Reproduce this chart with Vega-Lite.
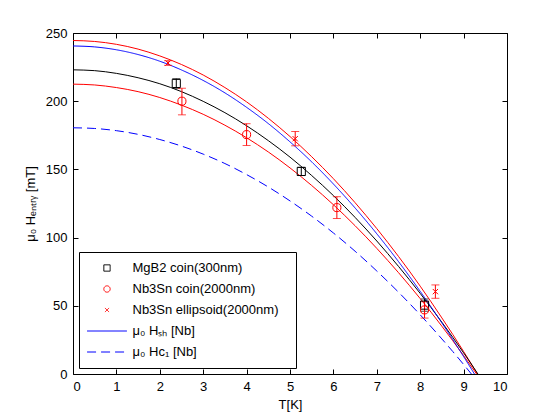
{
  "$schema": "https://vega.github.io/schema/vega-lite/v6.json",
  "width": 434,
  "height": 341,
  "autosize": {"type": "none"},
  "padding": {"left": 73, "top": 33, "right": 53, "bottom": 46},
  "background": "white",
  "config": {
    "font": "Liberation Sans",
    "view": {"stroke": "black", "strokeWidth": 1},
    "axis": {
      "domain": false,
      "grid": false,
      "ticks": true,
      "tickColor": "black",
      "tickSize": -5,
      "tickWidth": 1,
      "labelFont": "Liberation Sans",
      "labelFontSize": 13,
      "labelColor": "black",
      "labelPadding": 11,
      "titleFont": "Liberation Sans",
      "titleFontSize": 13,
      "titleFontWeight": "normal",
      "titleColor": "black"
    },
    "legend": {
      "orient": "bottom-left",
      "offset": 6,
      "padding": 7,
      "fillColor": "white",
      "strokeColor": "black",
      "cornerRadius": 0,
      "labelFont": "Liberation Sans",
      "labelFontSize": 13,
      "labelColor": "black",
      "labelOffset": 19,
      "labelLimit": 400,
      "rowPadding": 3,
      "clipHeight": 18,
      "symbolSize": 40,
      "symbolOffset": 14.5,
      "symbolStrokeWidth": 1
    }
  },
  "datasets": {
    "fits": [
      {"curve": "upper", "T": 0, "H": 244.5}, {"curve": "upper", "T": 0.5, "H": 243.8}, {"curve": "upper", "T": 1, "H": 241.7},
      {"curve": "upper", "T": 1.5, "H": 238.2}, {"curve": "upper", "T": 2, "H": 233.2}, {"curve": "upper", "T": 2.5, "H": 226.9},
      {"curve": "upper", "T": 3, "H": 219.2}, {"curve": "upper", "T": 3.5, "H": 210.0}, {"curve": "upper", "T": 4, "H": 199.5},
      {"curve": "upper", "T": 4.5, "H": 187.5}, {"curve": "upper", "T": 5, "H": 174.1}, {"curve": "upper", "T": 5.5, "H": 159.3},
      {"curve": "upper", "T": 6, "H": 143.2}, {"curve": "upper", "T": 6.5, "H": 125.6}, {"curve": "upper", "T": 7, "H": 106.6},
      {"curve": "upper", "T": 7.5, "H": 86.2}, {"curve": "upper", "T": 8, "H": 64.4}, {"curve": "upper", "T": 8.5, "H": 41.1},
      {"curve": "upper", "T": 8.75, "H": 29.0}, {"curve": "upper", "T": 9, "H": 16.5}, {"curve": "upper", "T": 9.1, "H": 11.4},
      {"curve": "upper", "T": 9.32, "H": 0},
      {"curve": "middle", "T": 0, "H": 223.0}, {"curve": "middle", "T": 0.5, "H": 222.4}, {"curve": "middle", "T": 1, "H": 220.4},
      {"curve": "middle", "T": 1.5, "H": 217.2}, {"curve": "middle", "T": 2, "H": 212.8}, {"curve": "middle", "T": 2.5, "H": 207.0},
      {"curve": "middle", "T": 3, "H": 199.9}, {"curve": "middle", "T": 3.5, "H": 191.6}, {"curve": "middle", "T": 4, "H": 182.0},
      {"curve": "middle", "T": 4.5, "H": 171.1}, {"curve": "middle", "T": 5, "H": 159.0}, {"curve": "middle", "T": 5.5, "H": 145.5},
      {"curve": "middle", "T": 6, "H": 130.8}, {"curve": "middle", "T": 6.5, "H": 114.8}, {"curve": "middle", "T": 7, "H": 97.5},
      {"curve": "middle", "T": 7.5, "H": 78.9}, {"curve": "middle", "T": 8, "H": 59.1}, {"curve": "middle", "T": 8.5, "H": 37.9},
      {"curve": "middle", "T": 8.75, "H": 26.9}, {"curve": "middle", "T": 9, "H": 15.5}, {"curve": "middle", "T": 9.1, "H": 10.9},
      {"curve": "middle", "T": 9.33, "H": 0},
      {"curve": "lower", "T": 0, "H": 212.5}, {"curve": "lower", "T": 0.5, "H": 211.9}, {"curve": "lower", "T": 1, "H": 210.0},
      {"curve": "lower", "T": 1.5, "H": 207.0}, {"curve": "lower", "T": 2, "H": 202.7}, {"curve": "lower", "T": 2.5, "H": 197.1},
      {"curve": "lower", "T": 3, "H": 190.4}, {"curve": "lower", "T": 3.5, "H": 182.4}, {"curve": "lower", "T": 4, "H": 173.2},
      {"curve": "lower", "T": 4.5, "H": 162.8}, {"curve": "lower", "T": 5, "H": 151.1}, {"curve": "lower", "T": 5.5, "H": 138.2},
      {"curve": "lower", "T": 6, "H": 124.1}, {"curve": "lower", "T": 6.5, "H": 108.7}, {"curve": "lower", "T": 7, "H": 92.1},
      {"curve": "lower", "T": 7.5, "H": 74.3}, {"curve": "lower", "T": 8, "H": 55.3}, {"curve": "lower", "T": 8.5, "H": 35.0},
      {"curve": "lower", "T": 8.75, "H": 24.4}, {"curve": "lower", "T": 9, "H": 13.5}, {"curve": "lower", "T": 9.1, "H": 9.0},
      {"curve": "lower", "T": 9.3, "H": 0}
    ],
    "niobium": [
      {"series": "μ₀ Hₛₕ [Nb]", "T": 0, "H": 240.5}, {"series": "μ₀ Hₛₕ [Nb]", "T": 0.5, "H": 239.8}, {"series": "μ₀ Hₛₕ [Nb]", "T": 1, "H": 237.7},
      {"series": "μ₀ Hₛₕ [Nb]", "T": 1.5, "H": 234.2}, {"series": "μ₀ Hₛₕ [Nb]", "T": 2, "H": 229.3}, {"series": "μ₀ Hₛₕ [Nb]", "T": 2.5, "H": 222.9},
      {"series": "μ₀ Hₛₕ [Nb]", "T": 3, "H": 215.2}, {"series": "μ₀ Hₛₕ [Nb]", "T": 3.5, "H": 206.1}, {"series": "μ₀ Hₛₕ [Nb]", "T": 4, "H": 195.5},
      {"series": "μ₀ Hₛₕ [Nb]", "T": 4.5, "H": 183.6}, {"series": "μ₀ Hₛₕ [Nb]", "T": 5, "H": 170.2}, {"series": "μ₀ Hₛₕ [Nb]", "T": 5.5, "H": 155.5},
      {"series": "μ₀ Hₛₕ [Nb]", "T": 6, "H": 139.3}, {"series": "μ₀ Hₛₕ [Nb]", "T": 6.5, "H": 121.7}, {"series": "μ₀ Hₛₕ [Nb]", "T": 7, "H": 102.8},
      {"series": "μ₀ Hₛₕ [Nb]", "T": 7.5, "H": 82.4}, {"series": "μ₀ Hₛₕ [Nb]", "T": 8, "H": 60.6}, {"series": "μ₀ Hₛₕ [Nb]", "T": 8.5, "H": 37.4},
      {"series": "μ₀ Hₛₕ [Nb]", "T": 8.75, "H": 25.3}, {"series": "μ₀ Hₛₕ [Nb]", "T": 9, "H": 12.8}, {"series": "μ₀ Hₛₕ [Nb]", "T": 9.1, "H": 7.7},
      {"series": "μ₀ Hₛₕ [Nb]", "T": 9.25, "H": 0},
      {"series": "μ₀ Hc₁ [Nb]", "T": 0, "H": 180.5}, {"series": "μ₀ Hc₁ [Nb]", "T": 0.5, "H": 180.0}, {"series": "μ₀ Hc₁ [Nb]", "T": 1, "H": 178.4},
      {"series": "μ₀ Hc₁ [Nb]", "T": 1.5, "H": 175.7}, {"series": "μ₀ Hc₁ [Nb]", "T": 2, "H": 171.9}, {"series": "μ₀ Hc₁ [Nb]", "T": 2.5, "H": 167.1},
      {"series": "μ₀ Hc₁ [Nb]", "T": 3, "H": 161.2}, {"series": "μ₀ Hc₁ [Nb]", "T": 3.5, "H": 154.3}, {"series": "μ₀ Hc₁ [Nb]", "T": 4, "H": 146.2},
      {"series": "μ₀ Hc₁ [Nb]", "T": 4.5, "H": 137.1}, {"series": "μ₀ Hc₁ [Nb]", "T": 5, "H": 126.9}, {"series": "μ₀ Hc₁ [Nb]", "T": 5.5, "H": 115.7},
      {"series": "μ₀ Hc₁ [Nb]", "T": 6, "H": 103.4}, {"series": "μ₀ Hc₁ [Nb]", "T": 6.5, "H": 90.0}, {"series": "μ₀ Hc₁ [Nb]", "T": 7, "H": 75.5},
      {"series": "μ₀ Hc₁ [Nb]", "T": 7.5, "H": 60.0}, {"series": "μ₀ Hc₁ [Nb]", "T": 8, "H": 43.4}, {"series": "μ₀ Hc₁ [Nb]", "T": 8.5, "H": 25.7},
      {"series": "μ₀ Hc₁ [Nb]", "T": 8.75, "H": 16.5}, {"series": "μ₀ Hc₁ [Nb]", "T": 9, "H": 7.0}, {"series": "μ₀ Hc₁ [Nb]", "T": 9.18, "H": 0}
    ],
    "samples": [
      {"series": "MgB2 coin(300nm)", "T": 2.38, "H": 213.0, "lo": 209.5, "hi": 216.5},
      {"series": "MgB2 coin(300nm)", "T": 5.26, "H": 148.5, "lo": 145.5, "hi": 151.5},
      {"series": "MgB2 coin(300nm)", "T": 8.1, "H": 50.5, "lo": 46.0, "hi": 55.0},
      {"series": "Nb3Sn coin(2000nm)", "T": 2.51, "H": 200.0, "lo": 190.0, "hi": 209.5},
      {"series": "Nb3Sn coin(2000nm)", "T": 4.0, "H": 175.5, "lo": 167.5, "hi": 183.5},
      {"series": "Nb3Sn coin(2000nm)", "T": 6.08, "H": 122.0, "lo": 114.0, "hi": 130.0},
      {"series": "Nb3Sn coin(2000nm)", "T": 8.1, "H": 47.0, "lo": 41.0, "hi": 53.0},
      {"series": "Nb3Sn ellipsoid(2000nm)", "T": 2.19, "H": 228.0, "lo": 226.3, "hi": 229.7},
      {"series": "Nb3Sn ellipsoid(2000nm)", "T": 5.12, "H": 172.5, "lo": 167.3, "hi": 177.8},
      {"series": "Nb3Sn ellipsoid(2000nm)", "T": 8.35, "H": 60.4, "lo": 55.5, "hi": 65.3}
    ]
  },
  "resolve": {"axis": {"x": "independent", "y": "independent"}},
  "layer": [
    {
      "data": {"name": "fits"},
      "transform": [{"filter": "datum.curve !== 'middle'"}],
      "mark": {"type": "line", "color": "#ff0000", "strokeWidth": 1, "interpolate": "monotone"},
      "encoding": {
        "x": {"field": "T", "type": "quantitative", "scale": {"domain": [0, 10], "nice": false},
              "axis": {"orient": "bottom", "values": [0, 1, 2, 3, 4, 5, 6, 7, 8, 9, 10], "title": "T[K]", "titlePadding": 5}},
        "y": {"field": "H", "type": "quantitative", "scale": {"domain": [0, 250], "nice": false},
              "axis": {"orient": "left", "values": [0, 50, 100, 150, 200, 250], "title": "μ₀ Hₑₙₜᵣᵧ [mT]", "titlePadding": 8}},
        "detail": {"field": "curve"}
      }
    },
    {
      "data": {"name": "fits"},
      "transform": [{"filter": "datum.curve === 'middle'"}],
      "mark": {"type": "line", "color": "black", "strokeWidth": 1, "interpolate": "monotone"},
      "encoding": {
        "x": {"field": "T", "type": "quantitative", "axis": null},
        "y": {"field": "H", "type": "quantitative", "axis": null}
      }
    },
    {
      "data": {"name": "niobium"},
      "mark": {"type": "line", "strokeWidth": 1, "interpolate": "monotone"},
      "encoding": {
        "x": {"field": "T", "type": "quantitative",
              "axis": {"orient": "top", "values": [0, 1, 2, 3, 4, 5, 6, 7, 8, 9, 10], "labels": false, "title": null}},
        "y": {"field": "H", "type": "quantitative",
              "axis": {"orient": "right", "values": [0, 50, 100, 150, 200, 250], "labels": false, "title": null}},
        "color": {"field": "series", "type": "nominal",
                  "scale": {"domain": ["MgB2 coin(300nm)", "Nb3Sn coin(2000nm)", "Nb3Sn ellipsoid(2000nm)", "μ₀ Hₛₕ [Nb]", "μ₀ Hc₁ [Nb]"],
                            "range": ["black", "#ff0000", "#ff0000", "#0000ff", "#0000ff"]},
                  "legend": {"title": null, "labelExpr": "datum.label + '\u2800'",
                             "encode": {"symbols": {"update": {"size": {"value": 40}}}}}},
        "strokeDash": {"field": "series", "type": "nominal",
                       "scale": {"domain": ["MgB2 coin(300nm)", "Nb3Sn coin(2000nm)", "Nb3Sn ellipsoid(2000nm)", "μ₀ Hₛₕ [Nb]", "μ₀ Hc₁ [Nb]"],
                                 "range": [[1, 0], [1, 0], [1, 0], [1, 0], [9, 5]]},
                       "legend": {"title": null, "labelExpr": "datum.label + '\u2800'",
                                  "encode": {"symbols": {"update": {"size": {"value": 40}}}}}}
      }
    },
    {
      "data": {"name": "samples"},
      "transform": [{"filter": "datum.series === 'MgB2 coin(300nm)'"}],
      "mark": {"type": "errorbar", "color": "black", "thickness": 1, "ticks": {"size": 8, "thickness": 1}},
      "encoding": {
        "x": {"field": "T", "type": "quantitative", "axis": null},
        "y": {"field": "lo", "type": "quantitative", "axis": null},
        "y2": {"field": "hi"}
      }
    },
    {
      "data": {"name": "samples"},
      "transform": [{"filter": "datum.series !== 'MgB2 coin(300nm)'"}],
      "mark": {"type": "errorbar", "color": "#ff0000", "thickness": 1, "ticks": {"size": 8, "thickness": 1}},
      "encoding": {
        "x": {"field": "T", "type": "quantitative", "axis": null},
        "y": {"field": "lo", "type": "quantitative", "axis": null},
        "y2": {"field": "hi"}
      }
    },
    {
      "data": {"name": "samples"},
      "mark": {"type": "point", "filled": false, "strokeWidth": 1, "opacity": 1, "size": 66},
      "encoding": {
        "x": {"field": "T", "type": "quantitative", "axis": null},
        "y": {"field": "H", "type": "quantitative", "axis": null},
        "color": {"field": "series", "type": "nominal",
                  "scale": {"domain": ["MgB2 coin(300nm)", "Nb3Sn coin(2000nm)", "Nb3Sn ellipsoid(2000nm)", "μ₀ Hₛₕ [Nb]", "μ₀ Hc₁ [Nb]"],
                            "range": ["black", "#ff0000", "#ff0000", "#0000ff", "#0000ff"]},
                  "legend": {"title": null, "labelExpr": "datum.label + '\u2800'",
                             "encode": {"symbols": {"update": {"size": {"value": 40}}}}}},
        "shape": {"field": "series", "type": "nominal",
                  "scale": {"domain": ["MgB2 coin(300nm)", "Nb3Sn coin(2000nm)", "Nb3Sn ellipsoid(2000nm)", "μ₀ Hₛₕ [Nb]", "μ₀ Hc₁ [Nb]"],
                            "range": ["square", "circle", "M-0.65,-0.65L0.65,0.65M0.65,-0.65L-0.65,0.65", "M-6.3,0L6.3,0", "M-6.3,0L6.3,0"]},
                  "legend": {"title": null, "labelExpr": "datum.label + '\u2800'",
                             "encode": {"symbols": {"update": {"size": {"value": 40}}}}}}
      }
    }
  ]
}
